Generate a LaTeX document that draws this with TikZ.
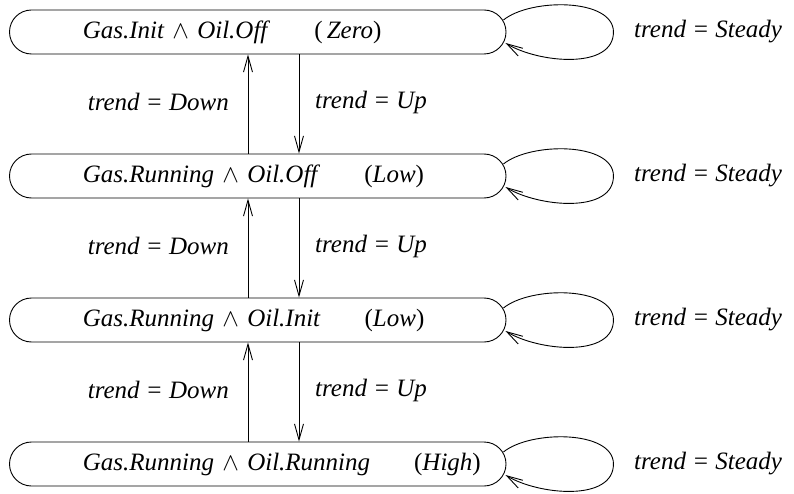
\documentclass[tikz,border=0pt]{standalone}
\usepackage{fontspec}
\setmainfont{Liberation Serif}
\usetikzlibrary{arrows.meta,calc}
\begin{document}
\begin{tikzpicture}[x=1pt,y=1pt,
  txt/.style={font=\itshape\fontsize{25}{30}\selectfont, inner sep=0pt},
  state/.style={draw, line width=0.9pt, rectangle, rounded corners=22pt,
    minimum width=496.5pt, minimum height=44pt, text width=496.5pt,
    inner xsep=0pt, align=left, font=\itshape\fontsize{25}{30}\selectfont},
  arr/.style={line width=0.9pt, -{Straight Barb[length=16pt,width=9pt,line width=0.9pt]}}
]
\useasboundingbox (0,0) rectangle (794,-494);
\newcommand\pad{\hspace*{73.25pt}}
\newcommand\gap{\hspace{44pt}}
\newcommand\lp{\textup{(}}
\newcommand\rp{\textup{)}}
\node[state] (n1) at (257.75,-32)  {\pad Gas.Init~$\wedge$~Oil.Off\gap\lp\,Zero\rp};
\node[state] (n2) at (257.75,-176) {\pad Gas.Running~$\wedge$~Oil.Off\gap\lp Low\rp};
\node[state] (n3) at (257.75,-320) {\pad Gas.Running~$\wedge$~Oil.Init\gap\lp Low\rp};
\node[state] (n4) at (257.75,-464) {\pad Gas.Running~$\wedge$~Oil.Running\gap\lp High\rp};

\newcommand\selfloop[1]{%
  \draw[arr] ($(#1.east)+(-3,12)$) .. controls ($(#1.east)+(24,34)$) and ($(#1.east)+(107,34)$) ..
    ($(#1.east)+(107,0)$) .. controls ($(#1.east)+(107,-38)$) and ($(#1.east)+(32,-31)$) ..
    ($(#1.east)+(-1,-11)$);}
\selfloop{n1}\selfloop{n2}\selfloop{n3}\selfloop{n4}

\foreach \a/\b in {n1/n2, n2/n3, n3/n4}{
  \draw[arr] ([xshift=-9.75pt]\b.north) -- ([xshift=-9.75pt]\a.south);
  \draw[arr] ([xshift=41.25pt]\a.south) -- ([xshift=41.25pt]\b.north);
}
\node[txt, anchor=east] (d1) at (229,-102) {trend = Down};
\node[txt, anchor=west] (u1) at (315,-102) {trend = Up};
\node[txt, anchor=east] (d2) at (229,-246) {trend = Down};
\node[txt, anchor=west] (u2) at (315,-246) {trend = Up};
\node[txt, anchor=east] (d3) at (229,-390) {trend = Down};
\node[txt, anchor=west] (u3) at (315,-390) {trend = Up};
\node[txt, anchor=west] (s1) at (634,-32)  {trend = Steady};
\node[txt, anchor=west] (s2) at (634,-176) {trend = Steady};
\node[txt, anchor=west] (s3) at (634,-320) {trend = Steady};
\node[txt, anchor=west] (s4) at (634,-464) {trend = Steady};
\end{tikzpicture}
\end{document}
